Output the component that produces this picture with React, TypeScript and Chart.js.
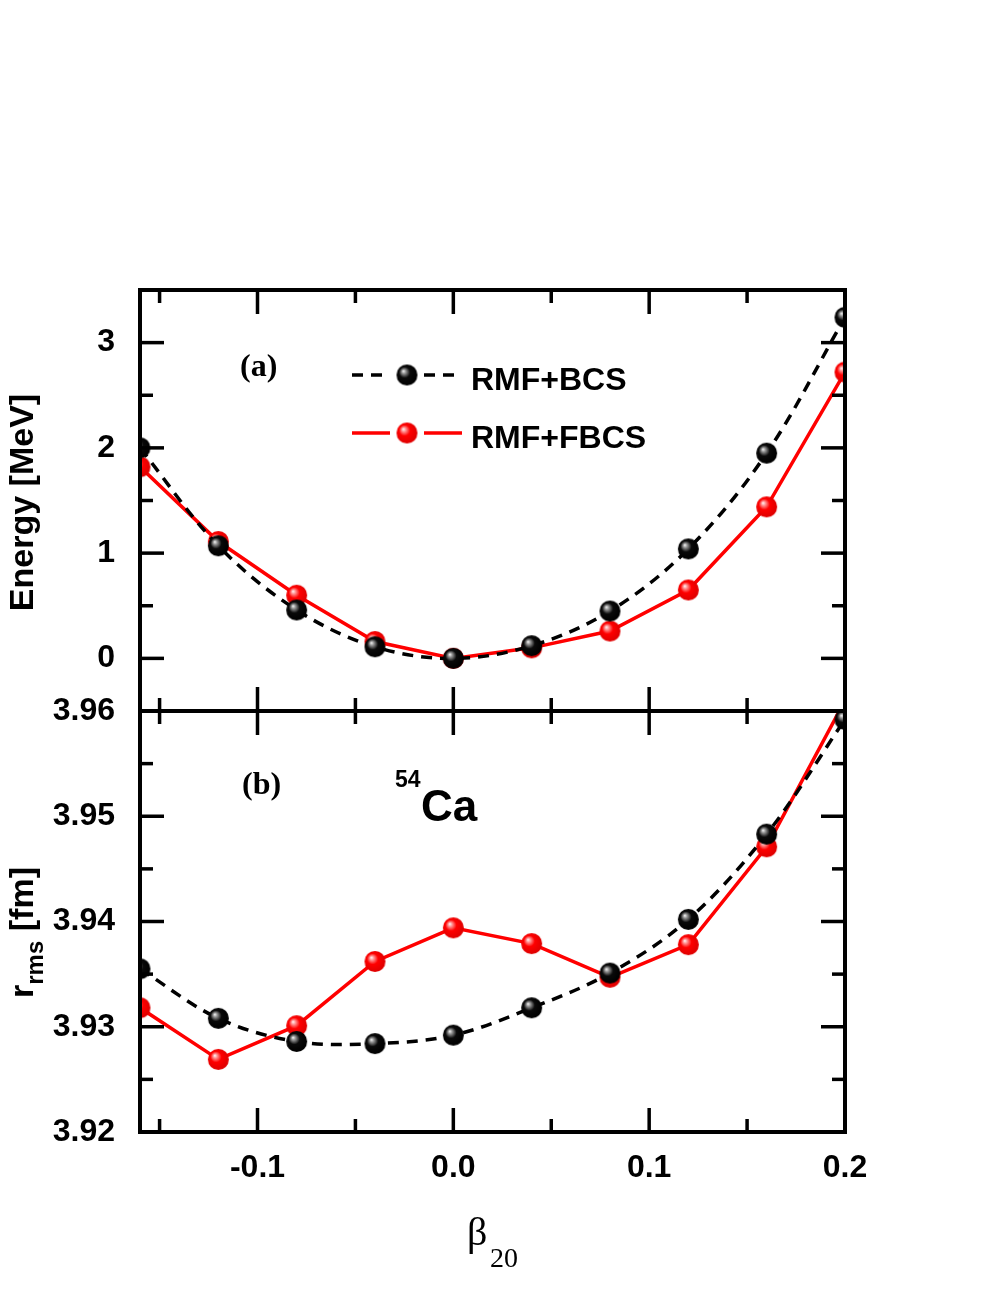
import React, { useEffect, useRef } from 'react';
import { Chart, registerables } from 'chart.js';
Chart.register(...registerables);

// ---- data ----
const BETA = [-0.16, -0.12, -0.08, -0.04, 0, 0.04, 0.08, 0.12, 0.16, 0.2];
const E_BCS = [2.0, 1.07, 0.46, 0.11, 0.0, 0.12, 0.45, 1.04, 1.95, 3.24];
const E_FBCS = [1.82, 1.11, 0.6, 0.16, 0.0, 0.1, 0.26, 0.65, 1.44, 2.72];
const R_BCS = [3.9355, 3.9308, 3.9286, 3.9284, 3.9292, 3.9318, 3.9351, 3.9402, 3.9483, 3.9592];
const R_FBCS = [3.9318, 3.9269, 3.9301, 3.9362, 3.9394, 3.9379, 3.9347, 3.9378, 3.9471, 3.961];

const SERIES_LABELS = ['RMF+BCS', 'RMF+FBCS'];

// ---- ticks ----
const X_MAJOR = [-0.1, 0.0, 0.1, 0.2];
const X_MINOR = [-0.15, -0.05, 0.05, 0.15];
const E_MAJOR = [0, 1, 2, 3];
const E_MINOR = [0.5, 1.5, 2.5];
const R_MAJOR = [3.92, 3.93, 3.94, 3.95, 3.96];
const R_MINOR = [3.925, 3.935, 3.945, 3.955];

const FONT_SANS = 'Liberation Sans, Arial, sans-serif';
const FONT_SERIF = 'Liberation Serif, Times New Roman, serif';

function makeBall(base: string, mid: string, dark: string, r: number) {
  const c = document.createElement('canvas');
  const s = Math.ceil(r * 2 + 2);
  c.width = s;
  c.height = s;
  const g = c.getContext('2d')!;
  const cx = s / 2, cy = s / 2;
  const grad = g.createRadialGradient(cx - r * 0.35, cy - r * 0.38, 0, cx - r * 0.1, cy - r * 0.1, r * 1.05);
  grad.addColorStop(0, '#ffffff');
  grad.addColorStop(0.18, mid);
  grad.addColorStop(0.5, base);
  grad.addColorStop(1, dark);
  g.fillStyle = grad;
  g.beginPath();
  g.arc(cx, cy, r, 0, Math.PI * 2);
  g.fill();
  return c;
}

export default function App() {
  const ref = useRef<HTMLCanvasElement | null>(null);

  useEffect(() => {
    document.body.style.margin = '0';
    const blackBall = makeBall('#0a0a0a', '#9a9a9a', '#000000', 10.5);
    const redBall = makeBall('#ff0000', '#ff9a9a', '#e00000', 10.5);
    const balls = [blackBall, redBall];

    const panelClip = {
      id: 'panelClip',
      beforeDatasetDraw(chart: any, args: any) {
        const ys = chart.scales[args.meta.yAxisID];
        const ca = chart.chartArea;
        const ctx = chart.ctx;
        ctx.save();
        ctx.beginPath();
        ctx.rect(ca.left, ys.top, ca.right - ca.left, ys.bottom - ys.top);
        ctx.clip();
      },
      afterDatasetDraw(chart: any) {
        chart.ctx.restore();
      },
    };

    const frame = {
      id: 'frame',
      afterDatasetsDraw(chart: any) {
        const ctx = chart.ctx;
        const x = chart.scales.x;
        const yE = chart.scales.yE;
        const yR = chart.scales.yR;
        const L = chart.chartArea.left;
        const Rr = chart.chartArea.right;
        const MAJ = 24, MIN = 13;
        const ln = (a: number, b: number, c: number, d: number) => {
          ctx.beginPath();
          ctx.moveTo(a, b);
          ctx.lineTo(c, d);
          ctx.stroke();
        };
        ctx.save();
        ctx.strokeStyle = '#000';
        ctx.lineWidth = 3.5;
        const panels: any[] = [
          [yE, E_MAJOR, E_MINOR],
          [yR, R_MAJOR, R_MINOR],
        ];
        for (const [ys, maj, min] of panels) {
          const xs: any[] = [[X_MAJOR, MAJ], [X_MINOR, MIN]];
          for (const [vals, len] of xs) {
            for (const v of vals) {
              const px = x.getPixelForValue(v);
              ln(px, ys.top, px, ys.top + len);
              ln(px, ys.bottom, px, ys.bottom - len);
            }
          }
          const yv: any[] = [[maj, MAJ], [min, MIN]];
          for (const [vals, len] of yv) {
            for (const v of vals) {
              const py = ys.getPixelForValue(v);
              ln(L, py, L + len, py);
              ln(Rr, py, Rr - len, py);
            }
          }
        }
        ctx.lineWidth = 4;
        ctx.strokeRect(L, yE.top, Rr - L, yR.bottom - yE.top);
        ln(L, yE.bottom, Rr, yE.bottom);
        ctx.restore();
      },
    };

    const texts = {
      id: 'texts',
      afterDraw(chart: any) {
        const ctx = chart.ctx;
        const ca = chart.chartArea;
        const yE = chart.scales.yE;
        const yR = chart.scales.yR;
        ctx.save();
        ctx.fillStyle = '#000';
        ctx.textAlign = 'left';
        ctx.textBaseline = 'alphabetic';

        // legend
        const dsets = chart.data.datasets;
        const rows = [ca.top + 85, ca.top + 143];
        rows.forEach((ly: number, i: number) => {
          const ds = dsets[i];
          ctx.save();
          ctx.strokeStyle = ds.borderColor;
          ctx.lineWidth = ds.borderWidth;
          ctx.setLineDash(ds.borderDash || []);
          ctx.beginPath();
          ctx.moveTo(ca.left + 212, ly);
          ctx.lineTo(ca.left + 250, ly);
          ctx.moveTo(ca.left + 284, ly);
          ctx.lineTo(ca.left + 322, ly);
          ctx.stroke();
          ctx.restore();
          const b = balls[i];
          ctx.drawImage(b, ca.left + 267 - b.width / 2, ly - b.height / 2);
          ctx.font = `bold 32px ${FONT_SANS}`;
          ctx.fillText(SERIES_LABELS[i], ca.left + 331, ly + 15);
        });

        // panel labels
        ctx.font = `bold 32px ${FONT_SERIF}`;
        ctx.fillText('(a)', ca.left + 100, yE.top + 86);
        ctx.fillText('(b)', ca.left + 102, yR.top + 83);

        ctx.font = `bold 23px ${FONT_SANS}`;
        ctx.fillText('54', ca.left + 255, yR.top + 76);
        ctx.font = `bold 44px ${FONT_SANS}`;
        ctx.fillText('Ca', ca.left + 281, yR.top + 110);

        // y titles
        ctx.save();
        ctx.font = `bold 34px ${FONT_SANS}`;
        ctx.translate(33, (yE.top + yE.bottom) / 2 + 2);
        ctx.rotate(-Math.PI / 2);
        ctx.textAlign = 'center';
        ctx.fillText('Energy [MeV]', 0, 0);
        ctx.restore();

        ctx.save();
        ctx.translate(33, (yR.top + yR.bottom) / 2 + 11);
        ctx.rotate(-Math.PI / 2);
        ctx.font = `bold 34px ${FONT_SANS}`;
        const w1 = ctx.measureText('r').width;
        ctx.font = `bold 24px ${FONT_SANS}`;
        const w2 = ctx.measureText('rms').width;
        ctx.font = `bold 34px ${FONT_SANS}`;
        const w3 = ctx.measureText(' [fm]').width;
        let sx = -(w1 + w2 + w3) / 2;
        ctx.fillText('r', sx, 0);
        sx += w1;
        ctx.font = `bold 24px ${FONT_SANS}`;
        ctx.fillText('rms', sx, 10);
        sx += w2;
        ctx.font = `bold 34px ${FONT_SANS}`;
        ctx.fillText(' [fm]', sx, 0);
        ctx.restore();

        // x title
        ctx.font = `40px ${FONT_SERIF}`;
        ctx.fillText('β', 467, 1245);
        ctx.font = `28px ${FONT_SERIF}`;
        ctx.fillText('20', 490, 1267);
        ctx.restore();
      },
    };

    const tickFont = { family: FONT_SANS, size: 32, weight: 'bold' as const };

    const chart = new Chart(ref.current!, {
      type: 'line',
      data: {
        datasets: [
          {
            label: SERIES_LABELS[0],
            data: BETA.map((b, i) => ({ x: b, y: E_BCS[i] })),
            yAxisID: 'yE',
            borderColor: '#000000',
            borderWidth: 3.5,
            borderDash: [11, 8],
            tension: 0.35,
            pointStyle: blackBall,
            pointRadius: 10,
          },
          {
            label: SERIES_LABELS[1],
            data: BETA.map((b, i) => ({ x: b, y: E_FBCS[i] })),
            yAxisID: 'yE',
            borderColor: '#ff0000',
            borderWidth: 3.5,
            tension: 0,
            pointStyle: redBall,
            pointRadius: 10,
          },
          {
            label: SERIES_LABELS[0],
            data: BETA.map((b, i) => ({ x: b, y: R_BCS[i] })),
            yAxisID: 'yR',
            borderColor: '#000000',
            borderWidth: 3.5,
            borderDash: [11, 8],
            tension: 0.35,
            pointStyle: blackBall,
            pointRadius: 10,
          },
          {
            label: SERIES_LABELS[1],
            data: BETA.map((b, i) => ({ x: b, y: R_FBCS[i] })),
            yAxisID: 'yR',
            borderColor: '#ff0000',
            borderWidth: 3.5,
            tension: 0,
            pointStyle: redBall,
            pointRadius: 10,
          },
        ] as any,
      },
      options: {
        animation: false,
        responsive: false,
        events: [],
        layout: { padding: { top: 290, right: 152, bottom: 0, left: 0 } },
        plugins: { legend: { display: false }, tooltip: { enabled: false } },
        scales: {
          x: {
            type: 'linear',
            min: -0.16,
            max: 0.2,
            grid: { display: false, drawTicks: false },
            border: { display: false },
            afterBuildTicks: (s: any) => {
              s.ticks = X_MAJOR.map((v) => ({ value: v }));
            },
            afterFit: (s: any) => {
              s.height = 158;
            },
            ticks: {
              font: tickFont,
              color: '#000',
              padding: 17,
              maxRotation: 0,
              autoSkip: false,
              callback: (v: any) => Number(v).toFixed(1),
            },
          },
          yR: {
            type: 'linear',
            position: 'left',
            stack: 'panels',
            stackWeight: 1,
            min: 3.92,
            max: 3.96,
            grid: { display: false, drawTicks: false },
            border: { display: false },
            afterBuildTicks: (s: any) => {
              s.ticks = R_MAJOR.map((v) => ({ value: v }));
            },
            afterFit: (s: any) => {
              s.width = 140;
            },
            ticks: {
              font: tickFont,
              color: '#000',
              padding: 25,
              autoSkip: false,
              callback: (v: any) => Number(v).toFixed(2),
            },
          },
          yE: {
            type: 'linear',
            position: 'left',
            stack: 'panels',
            stackWeight: 1,
            min: -0.5,
            max: 3.5,
            grid: { display: false, drawTicks: false },
            border: { display: false },
            afterBuildTicks: (s: any) => {
              s.ticks = E_MAJOR.map((v) => ({ value: v }));
            },
            afterFit: (s: any) => {
              s.width = 140;
            },
            ticks: {
              font: tickFont,
              color: '#000',
              padding: 25,
              autoSkip: false,
              callback: (v: any) => String(Math.round(Number(v))),
            },
          },
        } as any,
      },
      plugins: [panelClip, frame, texts],
    });
    return () => chart.destroy();
  }, []);

  return (
    <div style={{ position: 'absolute', left: 0, top: 0, width: 997, height: 1290, background: '#fff' }}>
      <canvas ref={ref} width={997} height={1290} style={{ display: 'block' }} />
    </div>
  );
}
